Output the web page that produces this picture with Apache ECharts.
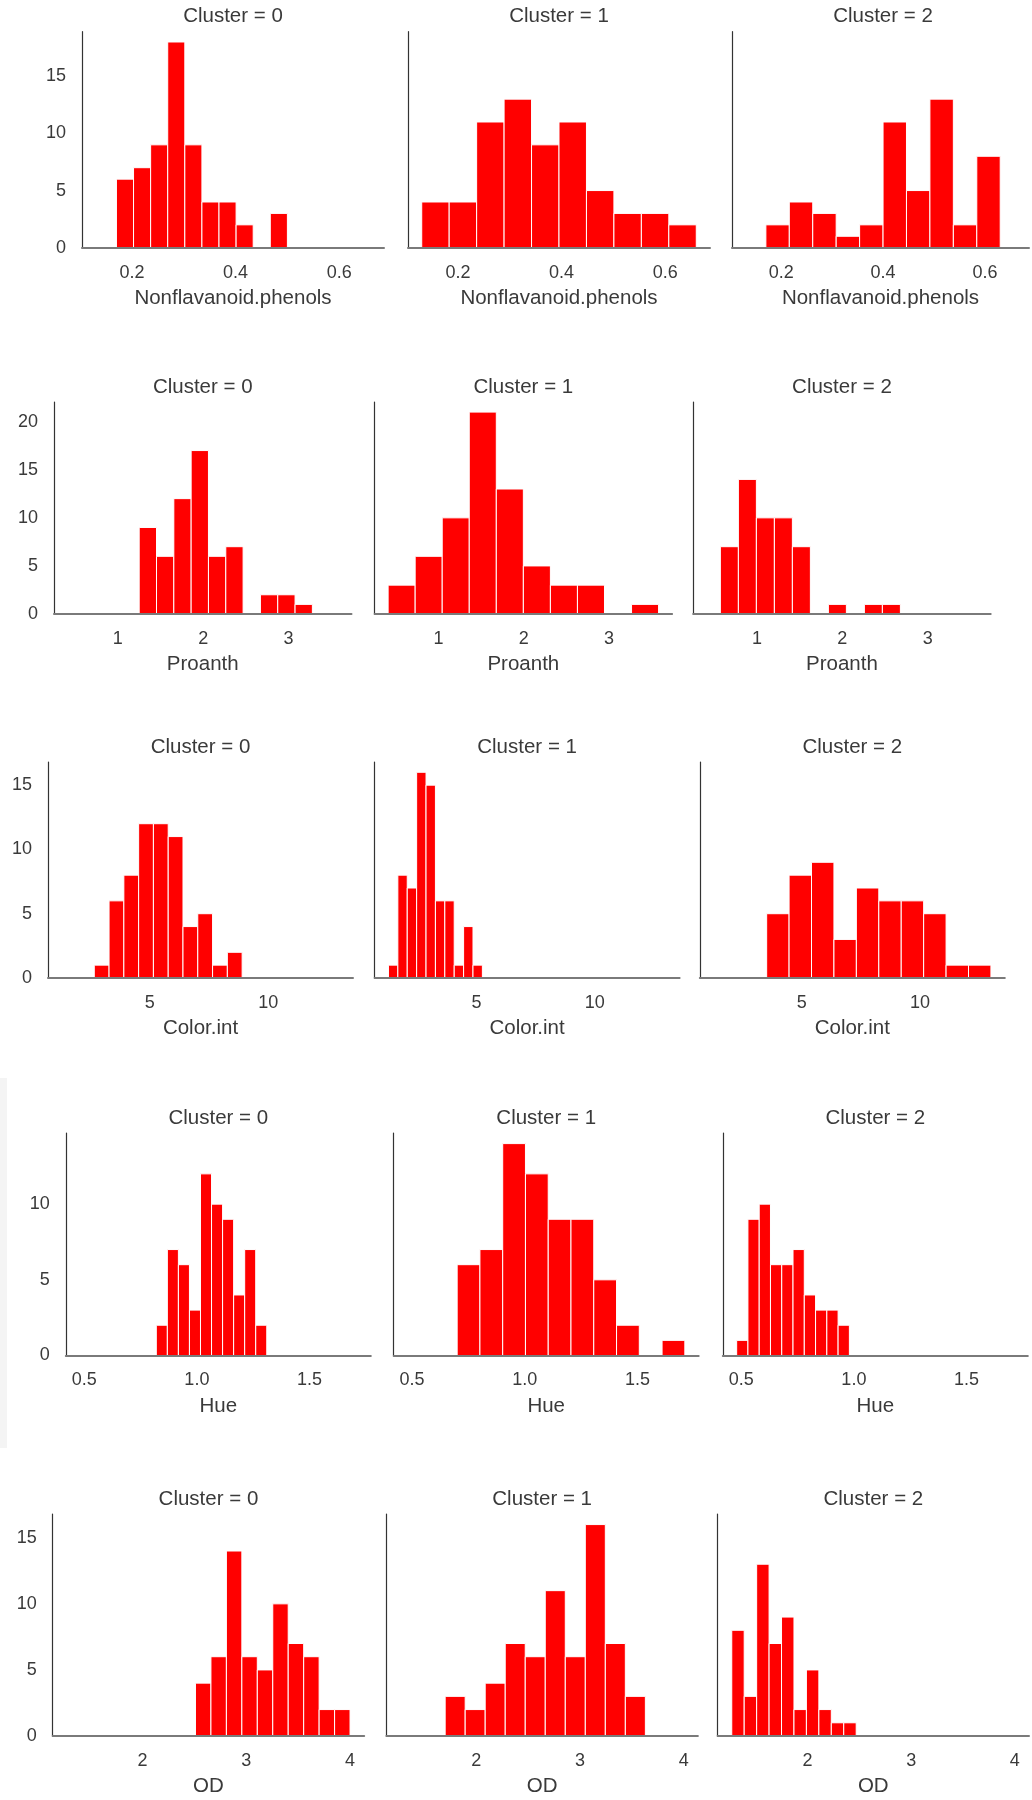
<!DOCTYPE html>
<html>
<head>
<meta charset="utf-8">
<script src="https://cdn.jsdelivr.net/npm/echarts@6/dist/echarts.min.js"></script>
<style>
html,body{margin:0;padding:0;background:#ffffff;}
#chart{width:1032px;height:1800px;}
</style>
</head>
<body>
<div id="chart"></div>
<script>
// ---------------- DATA ----------------
const features = ['Nonflavanoid.phenols', 'Proanth', 'Color.int', 'Hue', 'OD'];
const clusterTitles = ['Cluster = 0', 'Cluster = 1', 'Cluster = 2'];

// histogram range [first bin edge, last bin edge] per cluster, and 10 bin counts
const nonflavRanges = [[0.17, 0.50], [0.13, 0.66], [0.17, 0.63]];
const nonflavCounts = [
  [6, 7, 9, 18, 9, 4, 4, 2, 0, 3],
  [4, 4, 11, 13, 9, 11, 5, 3, 3, 2],
  [2, 4, 3, 1, 2, 11, 5, 13, 2, 8]
];
const proanthRanges = [[1.25, 3.28], [0.41, 3.58], [0.57, 2.68]];
const proanthCounts = [
  [9, 6, 12, 17, 6, 7, 0, 2, 2, 1],
  [3, 6, 10, 21, 13, 5, 3, 3, 0, 1],
  [7, 14, 10, 10, 7, 0, 1, 0, 1, 1]
];
const colorRanges = [[2.65, 8.9], [1.28, 5.25], [3.52, 13.0]];
const colorCounts = [
  [1, 6, 8, 12, 12, 11, 4, 5, 1, 2],
  [1, 8, 7, 16, 15, 6, 6, 1, 4, 1],
  [5, 8, 9, 3, 7, 6, 6, 5, 1, 1]
];
const hueRanges = [[0.82, 1.31], [0.70, 1.71], [0.48, 0.98]];
const hueCounts = [
  [2, 7, 6, 3, 12, 10, 9, 4, 7, 2],
  [6, 7, 14, 12, 9, 9, 5, 2, 0, 1],
  [1, 9, 10, 6, 6, 7, 4, 3, 3, 2]
];
const odRanges = [[2.51, 4.0], [1.70, 3.63], [1.27, 2.47]];
const odCounts = [
  [4, 6, 14, 6, 5, 10, 7, 6, 2, 2],
  [3, 2, 4, 7, 6, 11, 6, 16, 7, 3],
  [8, 3, 13, 7, 9, 2, 5, 2, 1, 1]
];

// x tick labels per row
const nonflavTicks = [0.2, 0.4, 0.6];
const proanthTicks = [1, 2, 3];
const colorTicks = [5, 10];
const hueTicks = [0.5, 1.0, 1.5];
const odTicks = [2, 3, 4];
const yTickStep = 5;

// ---------------- LAYOUT ----------------
const rowRanges = [nonflavRanges, proanthRanges, colorRanges, hueRanges, odRanges];
const rowCounts = [nonflavCounts, proanthCounts, colorCounts, hueCounts, odCounts];
const rowTicks = [nonflavTicks, proanthTicks, colorTicks, hueTicks, odTicks];
const tickDecimals = [1, 0, 0, 1, 0];

const rowTop = [31.7, 402, 762, 1133, 1514];
const rowBottom = [247.7, 614, 978, 1355.5, 1736];
const rowLefts = [[82, 408, 732], [54, 374.6, 693.2], [48, 374.6, 699.8], [65.8, 393.7, 722.8], [52.7, 386.4, 717.6]];
const rowWidths = [302, 297.5, 305, 305, 311.5];

const FONT = '"Liberation Sans", Arial, Helvetica, sans-serif';
const TEXT = '#3a3a3a';

const grids = [], xAxes = [], yAxes = [], series = [], graphics = [];

// light notebook-output border on the left of the 4th row
graphics.push({type: 'rect', left: 0, top: 1078, shape: {width: 7, height: 370}, style: {fill: '#f4f4f4'}, z: -1});

function binData(range, counts) {
  const n = counts.length, w = (range[1] - range[0]) / n;
  return counts.map((c, i) => [range[0] + i * w, range[0] + (i + 1) * w, c]);
}

for (let r = 0; r < features.length; r++) {
  const ranges = rowRanges[r];
  const lo = Math.min(...ranges.map(d => d[0]));
  const hi = Math.max(...ranges.map(d => d[1]));
  const pad = (hi - lo) * 0.05;
  const xmin = lo - pad, xmax = hi + pad;
  const ymax = Math.max(...rowCounts[r].map(a => Math.max(...a))) * 1.05;
  const ticks = rowTicks[r];
  const step = ticks[1] - ticks[0];
  const dec = tickDecimals[r];
  const height = rowBottom[r] - rowTop[r];

  for (let c = 0; c < 3; c++) {
    const idx = grids.length;
    const left = rowLefts[r][c];
    const width = rowWidths[r];
    grids.push({left: left, top: rowTop[r], width: width, height: height, containLabel: false});
    xAxes.push({
      type: 'value', gridIndex: idx, min: xmin, max: xmax,
      minInterval: step, maxInterval: step,
      z: 5,
      name: features[r], nameLocation: 'middle', nameGap: 40,
      nameTextStyle: {fontFamily: FONT, fontSize: 20.5, color: TEXT},
      axisLine: {show: true, lineStyle: {color: '#7a7a7a', width: 2}},
      axisTick: {show: false},
      splitLine: {show: false},
      axisLabel: {
        margin: 16, fontFamily: FONT, fontSize: 18, color: TEXT,
        formatter: function (v) {
          for (const t of ticks) { if (Math.abs(v - t) < 1e-6) return t.toFixed(dec); }
          return '';
        }
      }
    });
    yAxes.push({
      type: 'value', gridIndex: idx, min: 0, max: ymax, interval: yTickStep,
      z: 5,
      axisLine: {show: true, lineStyle: {color: '#333333', width: 1.2}},
      axisTick: {show: false},
      splitLine: {show: false},
      axisLabel: {
        show: c === 0, margin: 16, fontFamily: FONT, fontSize: 18, color: TEXT,
        padding: [5, 0, 0, 0],
        formatter: function (v) { return (Math.abs(v / yTickStep - Math.round(v / yTickStep)) < 1e-6) ? String(Math.round(v)) : ''; }
      }
    });
    series.push({
      type: 'custom', xAxisIndex: idx, yAxisIndex: idx, z: 2,
      data: binData(ranges[c], rowCounts[r][c]),
      encode: {x: [0, 1], y: 2},
      renderItem: function (params, api) {
        const cnt = api.value(2);
        if (!cnt) return null;
        const p0 = api.coord([api.value(0), cnt]);
        const p1 = api.coord([api.value(1), 0]);
        return {
          type: 'rect',
          shape: {x: p0[0], y: p0[1], width: p1[0] - p0[0], height: p1[1] - p0[1]},
          style: {fill: '#ff0000', stroke: '#ffffff', lineWidth: 1}
        };
      }
    });
    graphics.push({
      type: 'text', x: left + width / 2, y: rowTop[r] - 15,
      style: {text: clusterTitles[c], font: '20.5px ' + FONT, fill: TEXT, textAlign: 'center', textVerticalAlign: 'middle'}
    });
  }
}

const chart = echarts.init(document.getElementById('chart'), null, {renderer: 'canvas'});
chart.setOption({
  animation: false,
  backgroundColor: '#ffffff',
  grid: grids, xAxis: xAxes, yAxis: yAxes, series: series,
  graphic: graphics
});
</script>
</body>
</html>
